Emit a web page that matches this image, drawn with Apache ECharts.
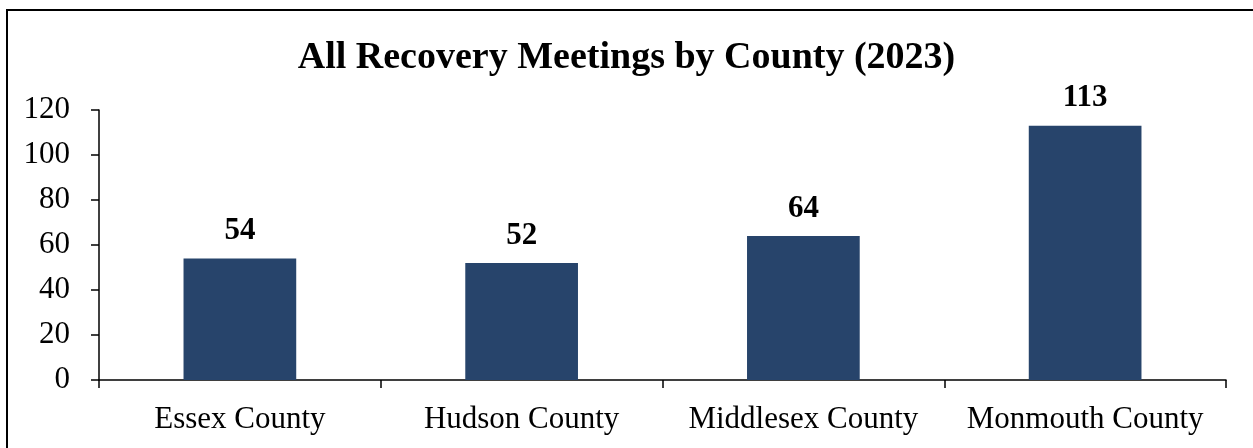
<!DOCTYPE html>
<html>
<head>
<meta charset="utf-8">
<script src="https://cdn.jsdelivr.net/npm/echarts@6/dist/echarts.min.js"></script>
<style>
  html, body { margin: 0; padding: 0; background: #fff; }
  #chart { width: 1253px; height: 448px; }
</style>
</head>
<body>
<div id="chart"></div>
<script>
// Recovery meetings held in each county during 2023
const counties = ['Essex County', 'Hudson County', 'Middlesex County', 'Monmouth County'];
const meetings = [54, 52, 64, 113];
const yTicks = { min: 0, max: 120, interval: 20 };

const serif = '"Liberation Serif", "Times New Roman", serif';
const chart = echarts.init(document.getElementById('chart'));

chart.setOption({
  backgroundColor: '#ffffff',
  animation: false,
  title: {
    text: 'All Recovery Meetings by County (2023)',
    left: 'center',
    top: 34,
    textStyle: { fontFamily: serif, fontWeight: 'bold', fontSize: 38, color: '#000' }
  },
  graphic: [{
    type: 'rect',
    shape: { x: 7, y: 10, width: 1300, height: 500 },
    style: { fill: 'none', stroke: '#000', lineWidth: 2 },
    silent: true
  }],
  grid: { left: 99, right: 27, top: 110, bottom: 68, containLabel: false },
  xAxis: {
    type: 'category',
    data: counties,
    axisLine: { show: true, lineStyle: { color: '#000', width: 1.5 } },
    axisTick: { show: true, interval: 0, length: 8, alignWithLabel: false, lineStyle: { color: '#000', width: 1.5 } },
    axisLabel: { interval: 0, hideOverlap: false, fontFamily: serif, fontSize: 31, color: '#000', margin: 24 }
  },
  yAxis: {
    type: 'value',
    min: yTicks.min,
    max: yTicks.max,
    interval: yTicks.interval,
    splitLine: { show: false },
    axisLine: { show: true, lineStyle: { color: '#000', width: 1.5 } },
    axisTick: { show: true, length: 8, lineStyle: { color: '#000', width: 1.5 } },
    axisLabel: { fontFamily: serif, fontSize: 31, color: '#000', margin: 29 }
  },
  series: [{
    type: 'bar',
    data: meetings,
    barWidth: '40%',
    itemStyle: { color: '#27446b' },
    label: {
      show: true,
      position: 'top',
      distance: 12,
      fontFamily: serif,
      fontWeight: 'bold',
      fontSize: 31,
      color: '#000'
    }
  }]
});
</script>
</body>
</html>
